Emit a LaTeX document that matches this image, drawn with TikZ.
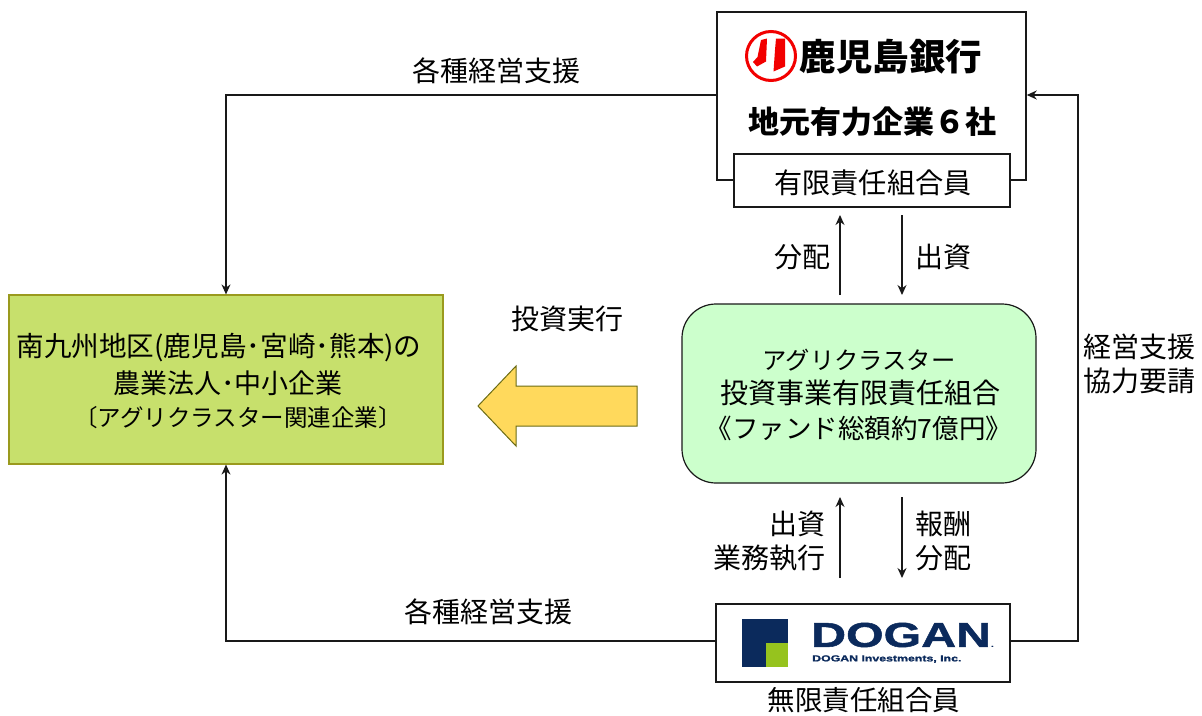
\documentclass[tikz,border=0pt]{standalone}
\usepackage{fontspec}
\setmainfont{Noto Sans CJK JP}
\newfontfamily\latinbold{Liberation Sans}[FakeStretch=1.4,FakeBold=1.5]
\usetikzlibrary{arrows.meta}
\definecolor{ltgreen}{HTML}{C7E06C}
\definecolor{ltgreenedge}{HTML}{9A9A1E}
\definecolor{mint}{HTML}{CCFFCC}
\definecolor{gold}{HTML}{FFD95C}
\definecolor{navy}{HTML}{0B2A5C}
\definecolor{limeg}{HTML}{96C31E}
\definecolor{bankred}{HTML}{F20000}
\tikzset{
  x=1pt,y=-1pt,
  conn/.style={draw=black!90,line width=1.2pt,-{Stealth[length=10pt,width=9pt]}},
  boxed/.style={draw=black!90,line width=1.5pt,fill=white,inner sep=0pt},
  lab/.style={font=\fontsize{28}{34}\selectfont,align=center,inner sep=0pt,text=black},
}
\begin{document}
\begin{tikzpicture}
\useasboundingbox (0,0) rectangle (1202,715);
% boxes
\node[boxed,minimum width=309pt,minimum height=168pt] (bank) at (871.5,96) {};
\node[boxed,minimum width=276pt,minimum height=53pt] (lp) at (872,180.5) {};
\node[lab] (lpt) at (873,183) {\fontsize{28.2}{30}\selectfont 有限責任組合員};
\node[draw=ltgreenedge,line width=1.2pt,fill=ltgreen,minimum width=434pt,minimum height=169pt,inner sep=0pt] (corp) at (226,379.5) {};
\node[lab] (corp1) at (219,348) {\fontsize{27.6}{30}\selectfont 南九州地区(鹿児島･宮崎･熊本)の};
\node[lab] (corp2) at (228,383) {\fontsize{27}{30}\selectfont 農業法人･中小企業};
\node[lab] (corp3) at (238,418) {\fontsize{23.5}{30}\selectfont 〔アグリクラスター関連企業〕};
\node[draw=black!90,line width=1.2pt,fill=mint,rounded corners=34pt,minimum width=354pt,minimum height=179pt,inner sep=0pt] (fund) at (859,393.5) {};
\node[lab] (fund1) at (859,360) {\fontsize{24.3}{30}\selectfont アグリクラスター};
\node[lab] (fund2) at (860,393) {\fontsize{28}{30}\selectfont 投資事業有限責任組合};
\node[lab] (fund3) at (859,428) {\fontsize{26.5}{30}\selectfont 《ファンド総額約7億円》};
\node[boxed,minimum width=294pt,minimum height=78pt] (dogan) at (863,643) {};
\node[lab] (gp) at (864,700) {\fontsize{27.5}{30}\selectfont 無限責任組合員};
% bank logo
\node[draw=bankred,line width=3pt,fill=white,circle,minimum size=49pt,inner sep=0pt] (logo) at (771,56) {};
\fill[bankred] (761,40) -- (767,38.5) -- (766,61.5) -- (757,66.5) -- (753,62) -- (757.5,57) -- cycle;
\fill[bankred] (776,38.5) -- (785,38.5) -- (785,66.5) -- (773.5,71.5) -- (775,50) -- cycle;
\node[lab] (bankname) at (891,57) {\fontsize{36.5}{40}\selectfont\bfseries 鹿児島銀行};
\node[lab] (six) at (872,122) {\fontsize{31}{34}\selectfont\bfseries 地元有力企業６社};
% dogan logo
\fill[navy] (742,619) rectangle (788,667);
\fill[limeg] (766,643) rectangle (788,667);
\node[lab,text=navy,anchor=west] (doganw) at (811,635) {\fontsize{34.5}{36}\selectfont\latinbold\bfseries DOGAN\fontsize{7}{8}\selectfont .};
\node[lab,text=navy,anchor=west] (dogani) at (812,659) {\fontsize{8.8}{11}\selectfont\latinbold\bfseries DOGAN Investments, Inc.};
% big arrow
\draw[draw=ltgreenedge!70!black,line width=1pt,fill=gold] (478,406) -- (516,366) -- (516,386) -- (637,386) -- (637,426) -- (516,426) -- (516,446) -- cycle;
% coordinates
\coordinate (a1) at (840,295);
\coordinate (a2) at (840,215);
\coordinate (b1) at (902,215);
\coordinate (b2) at (902,295);
\coordinate (c1) at (840,578);
\coordinate (c2) at (840,497);
\coordinate (d1) at (902,497);
\coordinate (d2) at (902,578);
\coordinate (tl) at (226,95);
\coordinate (bl) at (226,641);
\coordinate (tr) at (1078,95);
\coordinate (br) at (1078,641);
% connectors
\draw[conn] (bank.west |- tl) -- (tl) -- (corp.north -| tl);
\draw[conn] (dogan.west |- bl) -- (bl) -- (corp.south -| bl);
\draw[conn] (dogan.east |- br) -- (br) -- (tr) -- (bank.east |- tr);
\draw[conn] (a1) -- (a2);
\draw[conn] (b1) -- (b2);
\draw[conn] (c1) -- (c2);
\draw[conn] (d1) -- (d2);
% labels
\node[lab] (l1) at (496,71) {各種経営支援};
\node[lab] (l2) at (488,612) {各種経営支援};
\node[lab] (l3) at (567,319) {投資実行};
\node[lab] (l4) at (802,257) {分配};
\node[lab] (l5) at (943,257) {出資};
\node[lab,anchor=east] (l6a) at (826,524) {出資};
\node[lab,anchor=east] (l6b) at (826,558) {業務執行};
\node[lab] (l7a) at (943,524) {報酬};
\node[lab] (l7b) at (943,558) {分配};
\node[lab,anchor=west] (l8a) at (1083,347) {経営支援};
\node[lab,anchor=west] (l8b) at (1083,381) {協力要請};
\end{tikzpicture}
\end{document}
